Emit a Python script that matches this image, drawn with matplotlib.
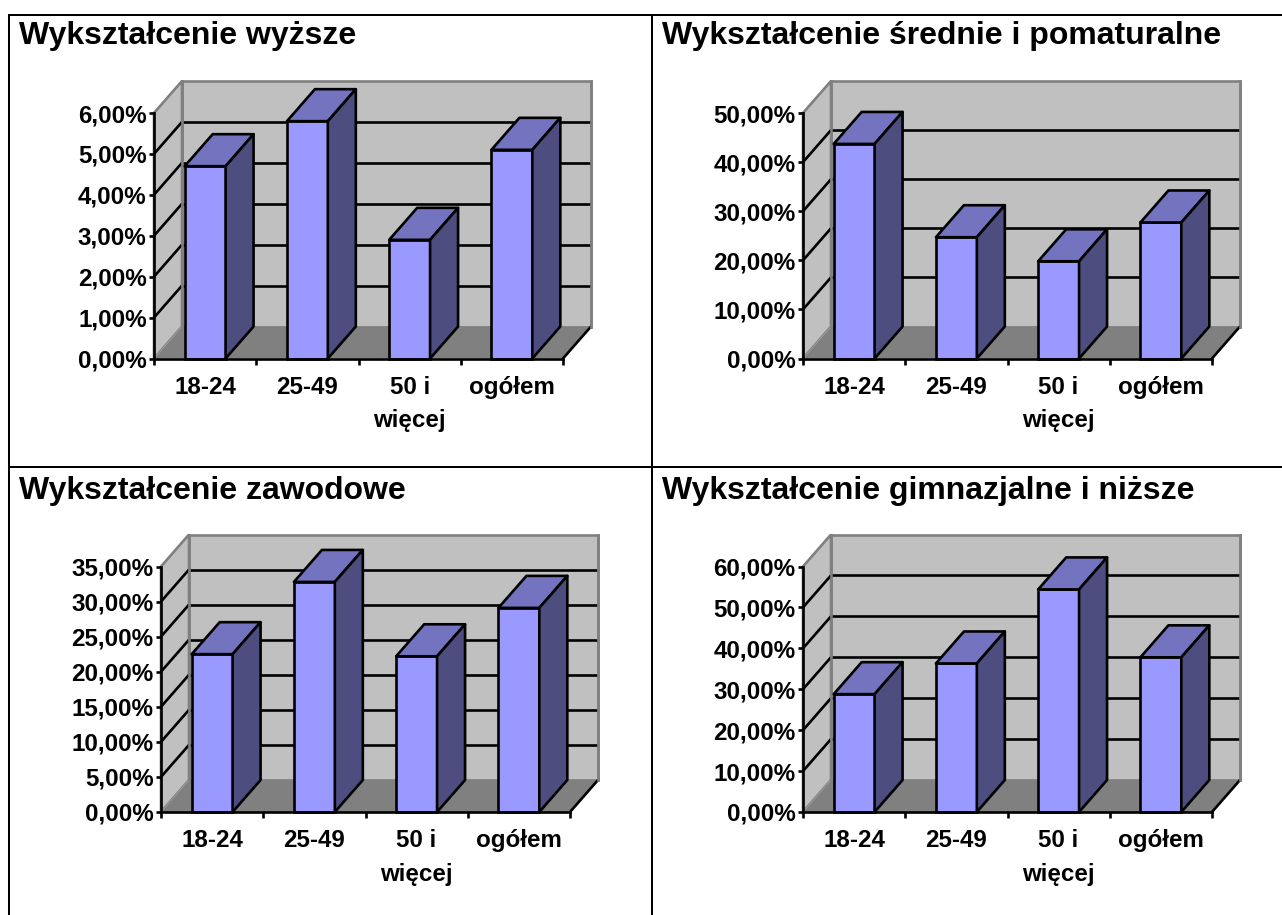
import matplotlib
matplotlib.use("Agg")
import matplotlib.pyplot as plt
from matplotlib.lines import Line2D
from matplotlib.patches import Polygon
from matplotlib.ticker import FuncFormatter, FixedLocator

plt.rcParams['font.family'] = ['Liberation Sans', 'DejaVu Sans']
plt.rcParams['font.weight'] = 'bold'

W, H = 1282, 915
DPI = 100

categories = ["18-24", "25-49", "50 i\nwięcej", "ogółem"]

title_1 = "Wykształcenie wyższe"
values_1 = [4.7, 5.8, 2.9, 5.1]
ymax_1, step_1 = 6, 1

title_2 = "Wykształcenie średnie i pomaturalne"
values_2 = [43.7, 24.7, 19.8, 27.7]
ymax_2, step_2 = 50, 10

title_3 = "Wykształcenie zawodowe"
values_3 = [22.5, 32.8, 22.2, 29.1]
ymax_3, step_3 = 35, 5

title_4 = "Wykształcenie gimnazjalne i niższe"
values_4 = [28.8, 36.3, 54.4, 37.8]
ymax_4, step_4 = 60, 10

WALL = '#C0C0C0'
FLOOR = '#808080'
FRONT = '#9999FF'
TOP = '#7373BF'
SIDE = '#4D4D80'
EDGE_W = 1.9
LABEL_SIZE = 17.4


def draw_panel(fig, left, right, top, bottom, title, title_xy, values, ymax, step):
    ax = fig.add_axes([left / W, 1 - bottom / H, (right - left) / W, (bottom - top) / H])
    ax.set_xlim(0, 4)
    ax.set_ylim(0, ymax)
    ax.patch.set_visible(False)
    dx = 28 * 4 / (right - left)
    dy = 32 * ymax / (bottom - top)

    # walls and floor
    ax.add_patch(Polygon([(dx, dy), (4 + dx, dy), (4 + dx, ymax + dy), (dx, ymax + dy)],
                         fc=WALL, ec=FLOOR, lw=EDGE_W, clip_on=False, zorder=1))
    ax.add_patch(Polygon([(0, 0), (dx, dy), (dx, ymax + dy), (0, ymax)],
                         fc=WALL, ec=FLOOR, lw=EDGE_W, clip_on=False, zorder=1))
    ax.add_patch(Polygon([(0, 0), (4, 0), (4 + dx, dy), (dx, dy)],
                         fc=FLOOR, ec='none', clip_on=False, zorder=1.1))
    ax.plot([4, 4 + dx], [0, dy], color='black', lw=EDGE_W, clip_on=False, zorder=1.2,
            solid_capstyle='round')
    ax.plot([0, dx], [0, dy], color='#A0A0A0', lw=0.6, clip_on=False, zorder=1.2)

    # gridlines on both walls
    v = step
    while v < ymax:
        ax.plot([dx, 4 + dx], [v + dy, v + dy], color='black', lw=EDGE_W, clip_on=False,
                zorder=1.3, solid_capstyle='butt')
        ax.plot([0, dx], [v, v + dy], color='black', lw=EDGE_W, clip_on=False, zorder=1.3,
                solid_capstyle='butt')
        v += step
    ax.plot([dx, dx], [dy, ymax + dy], color=FLOOR, lw=EDGE_W, clip_on=False, zorder=1.35)
    ax.plot([4 + dx, 4 + dx], [dy, ymax + dy], color=FLOOR, lw=EDGE_W, clip_on=False, zorder=1.35)

    # bars
    xs = [i + 0.5 for i in range(len(values))]
    w = 0.4
    ax.bar(xs, values, width=w, color=FRONT, edgecolor='black', linewidth=EDGE_W,
           zorder=2, clip_on=False)
    for x, val in zip(xs, values):
        x0, x1 = x - w / 2, x + w / 2
        ax.add_patch(Polygon([(x0, val), (x1, val), (x1 + dx, val + dy), (x0 + dx, val + dy)],
                             fc=TOP, ec='black', lw=EDGE_W, joinstyle='round',
                             clip_on=False, zorder=2))
        ax.add_patch(Polygon([(x1, 0), (x1 + dx, dy), (x1 + dx, val + dy), (x1, val)],
                             fc=SIDE, ec='black', lw=EDGE_W, joinstyle='round',
                             clip_on=False, zorder=2))

    # axes
    for name in ('top', 'right'):
        ax.spines[name].set_visible(False)
    for name in ('left', 'bottom'):
        ax.spines[name].set_linewidth(EDGE_W)
        ax.spines[name].set_zorder(3)
    ax.yaxis.set_major_locator(FixedLocator([i * step for i in range(int(ymax / step) + 1)]))
    ax.yaxis.set_major_formatter(FuncFormatter(lambda y, _: f"{y:.2f}".replace('.', ',') + '%'))
    ax.tick_params(axis='y', length=3.5, width=EDGE_W, labelsize=LABEL_SIZE, pad=1.8)
    ax.set_xticks(range(5))
    ax.set_xticklabels([])
    ax.set_xticks(xs, minor=True)
    ax.set_xticklabels(categories, minor=True, fontsize=LABEL_SIZE, linespacing=1.58, va='top')
    ax.tick_params(axis='x', which='major', length=4, width=EDGE_W)
    ax.tick_params(axis='x', which='minor', length=0, pad=12.5)

    fig.text(title_xy[0] / W, 1 - title_xy[1] / H, title, fontsize=23, fontweight='bold',
             ha='left', va='center', color='black')


fig = plt.figure(figsize=(W / DPI, H / DPI), dpi=DPI, facecolor='white')

draw_panel(fig, 154, 563, 113, 358.5, title_1, (19, 36), values_1, ymax_1, step_1)
draw_panel(fig, 803, 1212, 113, 358.5, title_2, (662, 36), values_2, ymax_2, step_2)
draw_panel(fig, 161, 570, 566.5, 812, title_3, (19, 491), values_3, ymax_3, step_3)
draw_panel(fig, 803, 1212, 566.5, 812, title_4, (662, 491), values_4, ymax_4, step_4)

# table rules
rules = [((9, 9), (15, 915)), ((652, 652), (15, 915)),
         ((9, 1282), (15, 15)), ((9, 1282), (467, 467))]
for xr, yr in rules:
    fig.add_artist(Line2D([x / W for x in xr], [1 - y / H for y in yr], color='black', lw=1.45,
                          transform=fig.transFigure, solid_capstyle='projecting'))

fig.savefig('out.png', dpi=DPI)
